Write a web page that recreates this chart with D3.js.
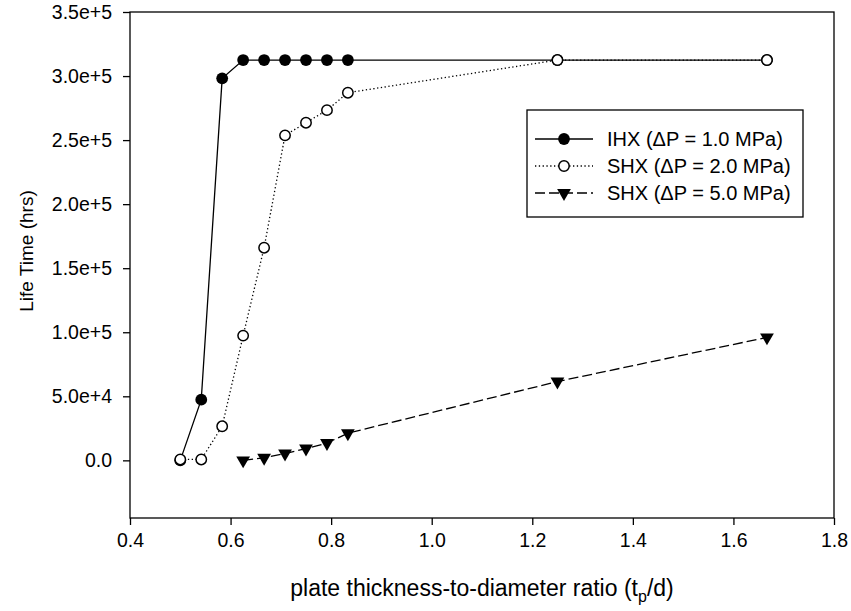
<!DOCTYPE html>
<html>
<head>
<meta charset="utf-8">
<script src="https://cdn.jsdelivr.net/npm/d3@7"></script>
<style>
  body { margin: 0; background: #fff; }
  svg text { font-family: "Liberation Sans", Arial, sans-serif; fill: #000; }
</style>
</head>
<body>
<div id="chart"></div>
<script>
// data
const ratio = [0.5, 0.5417, 0.5833, 0.625, 0.6667, 0.7083, 0.75, 0.7917, 0.8333, 1.25, 1.6667]
const ihxLife = [0, 47400, 298200, 312500, 312500, 312500, 312500, 312500, 312500, 312500, 312500]
const shx2Life = [700, 700, 26600, 97400, 166000, 253700, 263600, 273400, 287000, 312500, 312500]
const ratio5 = [0.625, 0.6667, 0.7083, 0.75, 0.7917, 0.8333, 1.25, 1.6667]
const shx5Life = [0, 2000, 5300, 9200, 13500, 21200, 61500, 96000]

const seriesNames = ['IHX (\u0394P = 1.0 MPa)', 'SHX (\u0394P = 2.0 MPa)', 'SHX (\u0394P = 5.0 MPa)']
const xTicks = [0.4, 0.6, 0.8, 1.0, 1.2, 1.4, 1.6, 1.8]
const yTicks = [0, 50000, 100000, 150000, 200000, 250000, 300000, 350000]

const outerWidth = 851
const outerHeight = 611
const margin = { top: 12, right: 17, bottom: 93, left: 130 }
const width = outerWidth - margin.left - margin.right
const height = outerHeight - margin.top - margin.bottom
const tickFont = 19.5

const svg = d3.select('#chart')
  .append('svg')
  .attr('width', outerWidth)
  .attr('height', outerHeight)

const g = svg.append('g')
  .attr('transform', `translate(${margin.left},${margin.top})`)

// scales
const xs = d3.scaleLinear().domain([0.4, 1.8]).range([0, width])
const ys = d3.scaleLinear().domain([-45000, 350000]).range([height, 0])

const yFormat = (d) => d === 0 ? '0.0' : d3.format('.1e')(d)

// frame
g.append('rect')
  .attr('width', width)
  .attr('height', height)
  .attr('fill', 'none')
  .attr('stroke', '#000')
  .attr('stroke-width', 1.3)

// axes
const xAxis = g.append('g')
  .attr('transform', `translate(0,${height})`)
  .call(d3.axisBottom(xs).tickValues(xTicks).tickFormat(d3.format('.1f')).tickSize(7).tickPadding(8))
const yAxis = g.append('g')
  .call(d3.axisLeft(ys).tickValues(yTicks).tickFormat(yFormat).tickSize(7).tickPadding(11))

for (const ax of [xAxis, yAxis]) {
  ax.select('.domain').remove()
  ax.selectAll('line').attr('stroke', '#000').attr('stroke-width', 1.3)
  ax.selectAll('text').attr('font-size', tickFont).attr('font-family', '"Liberation Sans", Arial, sans-serif')
}

// axis titles
const xTitle = svg.append('text')
  .attr('x', margin.left + width / 2)
  .attr('y', 596)
  .attr('text-anchor', 'middle')
  .attr('font-size', 23)
xTitle.append('tspan').text('plate thickness-to-diameter ratio (t')
xTitle.append('tspan').attr('font-size', 16).attr('dy', 6).text('p')
xTitle.append('tspan').attr('dy', -6).text('/d)')

svg.append('text')
  .attr('transform', 'translate(33,251) rotate(-90)')
  .attr('text-anchor', 'middle')
  .attr('font-size', 19)
  .text('Life Time (hrs)')

// series
const toPoints = (xsArr, ysArr) => xsArr.map((x, i) => ({ x: x, y: ysArr[i] }))
const series = [
  { name: seriesNames[0], pts: toPoints(ratio, ihxLife), dash: null, marker: 'filled' },
  { name: seriesNames[1], pts: toPoints(ratio, shx2Life), dash: '1.3,2.5', marker: 'open' },
  { name: seriesNames[2], pts: toPoints(ratio5, shx5Life), dash: '10,4', marker: 'tri' }
]

const line = d3.line()
  .x((d) => xs(d.x))
  .y((d) => ys(d.y))

const triPath = d3.symbol().type(d3.symbolTriangle).size(82)()

function drawMarker (sel, kind) {
  if (kind === 'filled') {
    sel.append('circle').attr('r', 5.9).attr('fill', '#000')
  } else if (kind === 'open') {
    sel.append('circle').attr('r', 5.2).attr('fill', '#fff').attr('stroke', '#000').attr('stroke-width', 1.5)
  } else {
    sel.append('path').attr('d', triPath).attr('transform', 'rotate(180)').attr('fill', '#000')
  }
}

series.forEach((s) => {
  g.append('path')
    .datum(s.pts)
    .attr('d', line)
    .attr('fill', 'none')
    .attr('stroke', '#000')
    .attr('stroke-width', 1.3)
    .attr('stroke-dasharray', s.dash)
  g.selectAll(null)
    .data(s.pts)
    .enter()
    .append('g')
    .attr('transform', (d) => `translate(${xs(d.x)},${ys(d.y)})`)
    .each(function () { drawMarker(d3.select(this), s.marker) })
})

// legend
const legend = svg.append('g').attr('transform', 'translate(527,110)')
legend.append('rect')
  .attr('width', 276)
  .attr('height', 107)
  .attr('fill', '#fff')
  .attr('stroke', '#000')
  .attr('stroke-width', 1.3)

series.forEach((s, i) => {
  const row = legend.append('g').attr('transform', `translate(0,${29 + i * 27})`)
  row.append('line')
    .attr('x1', 8).attr('x2', 66)
    .attr('stroke', '#000')
    .attr('stroke-width', 1.3)
    .attr('stroke-dasharray', s.dash)
  drawMarker(row.append('g').attr('transform', 'translate(37,0)'), s.marker)
  row.append('text')
    .attr('x', 80)
    .attr('dy', '0.35em')
    .attr('font-size', 20)
    .text(s.name)
})
</script>
</body>
</html>
